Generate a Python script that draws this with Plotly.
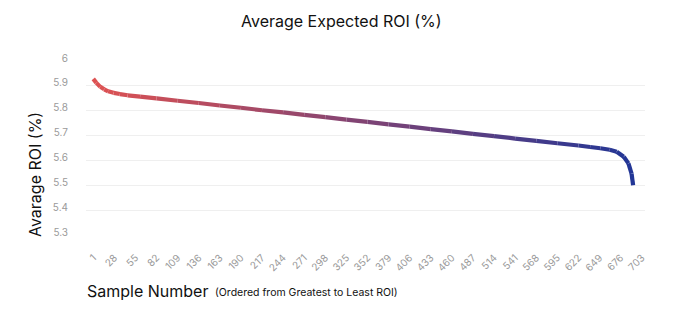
import plotly.graph_objects as go

# Sample numbers (ordered from greatest to least ROI) and read-off average ROI (%)
samples = [1, 5, 10, 15, 20, 27, 35, 45, 61, 82, 109, 136, 163, 190, 217, 244, 271,
           298, 325, 352, 379, 406, 433, 460, 487, 514, 541, 568, 595, 622, 637,
           650, 662, 671, 680, 686, 690, 692]
roi = [5.928, 5.912, 5.896, 5.886, 5.878, 5.872, 5.867, 5.862, 5.857, 5.850, 5.840, 5.831,
       5.821, 5.812, 5.802, 5.793, 5.783, 5.774, 5.764, 5.755, 5.745, 5.736,
       5.726, 5.717, 5.707, 5.698, 5.688, 5.679, 5.669, 5.660, 5.654,
       5.649, 5.643, 5.635, 5.615, 5.588, 5.547, 5.500]

tick_labels = [str(v) for v in range(1, 704, 27)]
y_ticks = [5.3, 5.4, 5.5, 5.6, 5.7, 5.8, 5.9, 6.0]
y_tick_text = ["5.3", "5.4", "5.5", "5.6", "5.7", "5.8", "5.9", "6"]

start_rgb = (222, 82, 82)
end_rgb = (34, 54, 150)

fig = go.Figure()
n = len(samples)
lo, hi = samples[0], samples[-1]
for i in range(n - 1):
    f = ((samples[i] + samples[i + 1]) / 2 - lo) / (hi - lo)
    c = tuple(round(a + (b - a) * f) for a, b in zip(start_rgb, end_rgb))
    fig.add_trace(go.Scatter(
        x=samples[i:i + 2], y=roi[i:i + 2], mode="lines",
        line=dict(color="rgb(%d,%d,%d)" % c, width=4.2),
        showlegend=False, hoverinfo="skip"))

W, H = 690, 323
l, r, t, b = 86, 45, 61, 88
pw, ph = W - l - r, H - t - b


def px(x, y):
    return (x - l) / pw, (H - b - y) / ph


ann_specs = [
    ("Average Expected ROI (%)", 341, 21, "center", 16, 0),
    ("Avarage ROI (%)", 35, 175, "center", 16, -90),
    ("Sample Number", 85, 291, "left", 16, 0),
    ("(Ordered from Greatest to Least ROI)", 213, 292, "left", 10.5, 0),
]
annotations = []
for text, ax, ay, xa, size, ang in ann_specs:
    xp, yp = px(ax, ay)
    annotations.append(dict(
        text=text, x=xp, y=yp, xref="paper", yref="paper", xanchor=xa, yanchor="middle",
        textangle=ang, showarrow=False,
        font=dict(size=size, color="#111111", family="Inter")))

fig.update_layout(
    width=W, height=H,
    margin=dict(l=l, r=r, t=t, b=b),
    paper_bgcolor="white", plot_bgcolor="white",
    font=dict(family="Inter", color="#999999", size=10),
    xaxis=dict(
        range=[-8.3, 707.2], showgrid=False, zeroline=False, showline=False,
        tickmode="array", tickvals=[int(v) for v in tick_labels], ticktext=tick_labels,
        tickangle=-45, ticklabelstandoff=14, tickfont=dict(size=10, color="#9a9a9a"),
    ),
    yaxis=dict(
        range=[5.3, 6.0], showgrid=True, gridcolor="#efefef", gridwidth=1,
        zeroline=False, showline=False,
        tickmode="array", tickvals=y_ticks, ticktext=y_tick_text,
        ticklabelstandoff=17, ticklabelshift=-3, tickfont=dict(size=10, color="#9a9a9a"),
    ),
    annotations=annotations,
)

fig.write_html("out.html")
